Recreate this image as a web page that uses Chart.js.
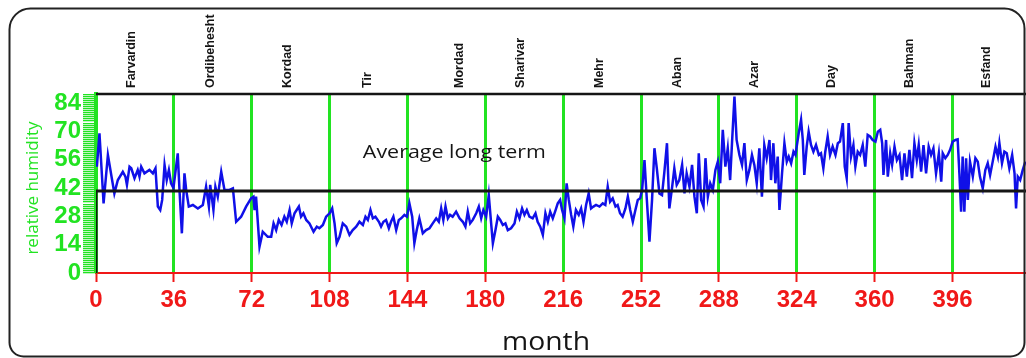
<!DOCTYPE html>
<html>
<head>
<meta charset="utf-8">
<script src="https://cdn.jsdelivr.net/npm/chart.js@4/dist/chart.umd.min.js"></script>
<style>
  html, body { margin: 0; padding: 0; background: #fff; }
  #wrap { width: 1026px; height: 358px; }
</style>
</head>
<body>
<div id="wrap"><canvas id="humidity"></canvas></div>
<script>
// day index along the x axis (36 per month)
const dayIndex = [
  0.4, 1.6, 3.5, 5.5, 8.5, 10.1, 12.4, 13.6, 14.3, 15.5, 16.3, 17.8, 19.3, 20.1, 20.9, 22.4, 24.7, 26.3, 27.5, 28.6,
  29.7, 30.6, 31.7, 32.7, 33.7, 34.7, 35.8, 37.8, 38.6, 39.7, 40.9, 41.7, 42.9, 44.8, 47.1, 49.4, 50.9, 52.2, 52.8, 54.3,
  55.2, 56.3, 57.9, 59.4, 61.7, 63.3, 64.8, 67.1, 69.4, 71.7, 72.8, 73.3, 74.0, 75.6, 77.1, 79.4,
  81.0, 82.1, 83.3, 84.5, 85.8, 87.1, 88.2, 89.5, 90.5, 91.8, 93.8, 94.8, 95.9, 97.2, 98.7, 100.6, 102.1, 103.3, 104.9, 106.4,
  108.0, 109.2, 110.3, 111.3, 112.6, 114.1, 115.7, 117.2, 118.7, 120.3, 121.8, 123.4, 124.6, 125.7, 126.9, 128.0, 129.2, 130.8, 131.8, 132.9,
  134.1, 135.4, 136.4, 137.5, 138.8, 140.0, 141.1, 142.6, 143.8, 144.9, 146.2, 147.2, 148.3, 149.5, 151.1, 152.6,
  154.2, 155.7, 157.3, 158.5, 159.6, 160.6, 161.6, 162.7, 163.7, 164.9, 166.5, 168.1, 169.6, 170.8, 171.9, 173.0, 174.2, 175.8, 177.0, 178.1,
  179.1, 180.4, 181.6, 182.7, 183.5, 184.7, 185.8, 186.9, 188.1, 189.3, 190.4, 191.9, 193.5, 194.6, 195.8, 197.0, 198.1, 199.2, 200.4, 201.9,
  203.2, 204.2, 205.4, 206.6, 207.8, 208.9, 210.0, 211.2, 212.5, 213.5, 214.6, 215.5, 216.6, 217.6, 218.6, 219.7, 220.7, 221.9, 223.2, 224.3,
  225.4, 226.6, 227.8, 228.9, 230.0, 231.2,
  232.8, 234.3, 235.5, 236.6, 237.7, 238.9, 240.2, 241.2, 242.3, 243.5, 244.8, 245.9, 247.0, 248.2, 249.4, 250.5, 251.6, 252.5, 253.6, 254.6,
  255.9, 257.1, 258.2, 259.3, 260.5, 261.7, 262.8, 264.0, 265.1, 266.4, 267.4, 268.5, 269.7, 271.0, 272.1, 273.1, 274.4, 275.6, 276.7, 277.8,
  278.7, 279.8, 280.9, 281.8, 282.9, 284.0, 285.2, 286.4, 287.5, 288.6, 289.8, 291.0, 292.1, 293.2, 294.1, 295.2, 296.2, 297.5, 298.7, 299.8,
  300.9, 302.1, 303.3, 304.4, 305.5, 306.7, 307.9, 309.0, 310.1,
  311.4, 312.1, 313.2, 314.1, 315.2, 316.0, 317.2, 318.3, 319.4, 320.3, 321.4, 322.5, 323.4, 324.9, 326.0, 326.8, 327.5, 328.6, 329.5, 330.6,
  331.7, 332.9, 334.2, 335.2, 336.3, 337.2, 338.3, 339.4, 340.6, 341.9, 343.0, 344.0, 345.3, 346.2, 347.1, 348.0, 349.1, 350.2, 351.1, 352.2,
  353.3, 354.5, 355.7, 356.8, 357.9, 359.1, 360.4, 361.5, 362.6, 363.5, 364.1, 365.3, 366.1, 367.2, 368.1, 369.2, 370.3,
  371.5, 372.7, 373.8, 374.9, 376.1, 377.3, 378.4, 379.5, 380.4, 381.5, 382.6, 383.8, 385.0, 386.1, 387.2, 388.4, 389.7, 390.8, 391.5, 392.7,
  393.8, 394.9, 396.1, 397.4, 398.4, 399.2, 400.0, 400.7, 401.5, 402.3, 403.1, 404.1, 405.4, 406.6, 407.7, 408.7, 410.0, 411.2, 412.3, 413.4,
  414.6, 415.9, 417.0, 417.7, 418.9, 420.0, 421.1, 422.3, 423.6, 424.7, 425.4, 426.2, 427.3, 428.5, 429.7
];

// relative humidity (%)
const humidity = [
  52.5, 69.0, 34.4, 58.3, 39.3, 45.9, 50.0, 47.6, 43.5, 52.5, 51.7, 46.8, 50.9, 47.6, 52.5, 49.2, 50.9, 49.2, 51.7, 32.8,
  31.1, 36.1, 53.4, 45.9, 50.9, 44.3, 42.0, 59.1, 41.0, 19.6, 49.2, 41.0, 32.8, 33.6, 31.9, 33.6, 42.6, 32.8, 43.5, 31.1,
  42.6, 37.7, 50.0, 41.0, 41.0, 41.8, 25.3, 27.8, 32.8, 36.9, 37.7, 31.1, 37.7, 13.0, 20.4, 17.9,
  17.9, 24.5, 21.2, 26.2, 23.7, 27.8, 25.3, 31.1, 24.5, 29.5, 32.8, 27.8, 29.5, 26.2, 24.5, 20.4, 22.9, 22.1, 23.7, 27.8,
  29.5, 31.9, 24.5, 14.7, 17.9, 24.5, 22.9, 18.8, 21.2, 22.9, 25.3, 23.7, 27.8, 26.2, 31.1, 27.0, 27.8, 25.3, 22.9, 25.3,
  26.2, 22.1, 25.3, 27.8, 21.2, 26.2, 27.0, 28.7, 27.8, 34.4, 27.8, 14.7, 21.2, 27.0, 19.6, 21.2,
  22.1, 24.5, 27.0, 25.3, 31.9, 26.2, 32.8, 27.0, 28.7, 27.8, 30.3, 27.0, 25.3, 22.9, 30.3, 24.5, 26.2, 29.5, 32.8, 27.0,
  31.1, 27.8, 38.5, 24.5, 14.7, 21.2, 27.8, 26.2, 23.7, 24.5, 21.2, 22.1, 24.5, 30.3, 27.0, 31.9, 28.7, 31.1, 27.8, 27.0,
  29.5, 25.3, 22.9, 18.8, 29.5, 25.3, 30.3, 27.0, 31.1, 34.4, 36.1, 31.1, 27.0, 44.3, 36.1, 28.7, 22.9, 31.1, 28.7, 31.9,
  25.3, 33.6, 39.3, 31.9, 32.8, 33.6,
  32.8, 34.4, 33.6, 42.6, 35.2, 36.9, 32.8, 33.6, 29.5, 27.8, 31.9, 37.7, 31.1, 25.3, 31.1, 36.1, 36.9, 41.0, 55.8, 37.7,
  15.5, 36.1, 61.6, 51.7, 39.3, 38.5, 50.0, 64.1, 31.9, 42.6, 51.7, 43.5, 45.9, 53.4, 39.3, 49.2, 42.6, 53.4, 37.7, 29.5,
  59.1, 36.1, 32.8, 56.7, 37.7, 44.3, 41.0, 50.9, 55.0, 44.3, 70.7, 52.5, 61.6, 45.9, 64.9, 87.1, 65.7, 58.3, 53.4, 64.1,
  45.9, 50.9, 58.3, 53.4, 44.3, 61.6, 37.7, 63.2, 56.7,
  65.7, 45.9, 64.1, 44.3, 57.5, 31.1, 49.2, 64.1, 55.0, 57.5, 54.2, 59.9, 58.3, 69.0, 75.6, 65.7, 48.4, 62.4, 69.8, 63.2,
  59.9, 63.2, 58.3, 59.1, 51.7, 59.9, 67.4, 58.3, 62.4, 58.3, 64.1, 64.9, 74.0, 52.5, 46.8, 74.0, 57.5, 63.2, 52.5, 59.9,
  58.3, 63.2, 52.5, 68.2, 67.4, 65.7, 64.9, 69.8, 70.7, 64.1, 48.4, 65.7, 47.6, 59.1, 53.4, 62.4, 55.8,
  58.3, 45.9, 59.1, 47.6, 60.8, 46.8, 64.1, 55.8, 63.2, 50.0, 63.2, 49.2, 62.4, 58.3, 61.6, 49.2, 59.1, 45.1, 59.1, 56.7,
  58.3, 60.8, 64.9, 65.7, 66.0, 49.2, 30.3, 57.5, 30.3, 56.7, 36.1, 55.0, 47.6, 56.7, 55.0, 47.6, 41.8, 50.9, 54.2, 48.4,
  55.0, 62.4, 57.5, 64.1, 54.2, 59.9, 59.1, 51.7, 58.3, 49.2, 31.9, 47.6, 45.9, 50.9, 55.0
];

const averageLongTerm = 40.5;

const xTickValues = [0, 36, 72, 108, 144, 180, 216, 252, 288, 324, 360, 396];
const yTickLabels = [0, 14, 28, 42, 56, 70, 84];

const monthNames = ['Farvardin', 'Ordibehesht', 'Kordad', 'Tir', 'Mordad', 'Sharivar',
                    'Mehr', 'Aban', 'Azar', 'Day', 'Bahman', 'Esfand'];
// where each month name sits on the x axis
const monthLabelAt = [16.3, 52.8, 88.7, 125.4, 168, 196.3, 233, 268.8, 304.5, 340, 376, 411.7];

const GREEN = '#22e322';
const RED = '#f01818';
const BLUE = '#1010e8';
const INK = '#151515';

const humidityPoints = dayIndex.map((d, i) => ({ x: d, y: humidity[i] }));
const averagePoints = [
  { x: 0, y: 0 },
  { x: 0, y: averageLongTerm },
  { x: 430, y: averageLongTerm }
];

// draws text squeezed/stretched to a given width (the source picture is stretched sideways)
function wideText(ctx, text, cx, cy, width) {
  const w = ctx.measureText(text).width;
  ctx.save();
  ctx.translate(cx, cy);
  ctx.scale(width / w, 1);
  ctx.textAlign = 'center';
  ctx.fillText(text, 0, 0);
  ctx.restore();
}

// frame, month names and free texts
const decorPlugin = {
  id: 'decor',
  beforeDraw(chart) {
    const ctx = chart.ctx;
    ctx.save();
    ctx.fillStyle = '#fff';
    ctx.fillRect(0, 0, chart.width, chart.height);
    ctx.restore();
  },
  afterDraw(chart) {
    const { ctx, chartArea: a, scales: { x, y } } = chart;
    ctx.save();

    // top edge of the plot box
    ctx.strokeStyle = INK;
    ctx.lineWidth = 2.5;
    ctx.beginPath();
    ctx.moveTo(a.left, a.top);
    ctx.lineTo(a.right, a.top);
    ctx.stroke();

    // outer rounded frame
    ctx.lineWidth = 2;
    ctx.strokeStyle = '#222';
    ctx.beginPath();
    ctx.roundRect(9.5, 8.5, 1015, 348, [21, 20, 14, 14]);
    ctx.stroke();

    // month names, rotated
    ctx.fillStyle = INK;
    ctx.font = 'bold 12.5px "Liberation Sans", Arial, sans-serif';
    ctx.textAlign = 'left';
    ctx.textBaseline = 'middle';
    monthNames.forEach((name, i) => {
      const px = x.getPixelForValue(monthLabelAt[i]);
      ctx.save();
      ctx.translate(px, 88);
      ctx.rotate(-Math.PI / 2);
      ctx.fillText(name, 0, 0);
      ctx.restore();
    });

    // average label
    ctx.font = '18px "Open Sans", sans-serif';
    wideText(ctx, 'Average long term', x.getPixelForValue(165.7), y.getPixelForValue(59.3), 183);

    // x title
    ctx.font = '25px "Open Sans", sans-serif';
    wideText(ctx, 'month', 546, 343, 88);

    // y title
    ctx.fillStyle = GREEN;
    ctx.font = '17px "Open Sans", sans-serif';
    ctx.save();
    ctx.translate(33, 188);
    ctx.rotate(-Math.PI / 2);
    ctx.textAlign = 'center';
    ctx.fillText('relative humidity', 0, 0);
    ctx.restore();

    ctx.restore();
  }
};

new Chart(document.getElementById('humidity'), {
  type: 'line',
  data: {
    datasets: [
      {
        label: 'relative humidity',
        data: humidityPoints,
        borderColor: BLUE,
        borderWidth: 2.5,
        pointRadius: 0,
        tension: 0,
        order: 1
      },
      {
        label: 'Average long term',
        data: averagePoints,
        borderColor: INK,
        borderWidth: 3,
        pointRadius: 0,
        tension: 0,
        order: 0
      }
    ]
  },
  options: {
    responsive: true,
    maintainAspectRatio: false,
    animation: false,
    layout: { padding: { top: 94, left: 0, right: 0, bottom: 0 } },
    plugins: {
      legend: { display: false },
      tooltip: { enabled: false }
    },
    scales: {
      x: {
        type: 'linear',
        min: 0,
        max: 430,
        afterBuildTicks: (scale) => { scale.ticks = xTickValues.map(v => ({ value: v })); },
        afterFit: (scale) => { scale.height = 85; },
        ticks: {
          color: RED,
          font: { family: '"Liberation Sans", Arial, sans-serif', size: 24, weight: 'bold' },
          padding: 4,
          autoSkip: false,
          maxRotation: 0
        },
        grid: {
          color: GREEN,
          lineWidth: 3,
          tickColor: RED,
          tickWidth: 2,
          tickLength: 9,
          drawOnChartArea: true
        },
        border: { color: RED, width: 2 }
      },
      y: {
        min: 0,
        max: 88.4,
        afterFit: (scale) => { scale.width = 96; },
        ticks: {
          stepSize: 1,
          includeBounds: false,
          autoSkip: false,
          color: GREEN,
          font: { family: '"Liberation Sans", Arial, sans-serif', size: 24, weight: 'bold' },
          padding: 2,
          callback: (v) => yTickLabels.includes(v) ? v : ''
        },
        grid: {
          color: GREEN,
          lineWidth: 1.3,
          tickLength: 13,
          drawOnChartArea: false
        },
        border: { color: GREEN, width: 4 }
      }
    }
  },
  plugins: [decorPlugin]
});
</script>
</body>
</html>
